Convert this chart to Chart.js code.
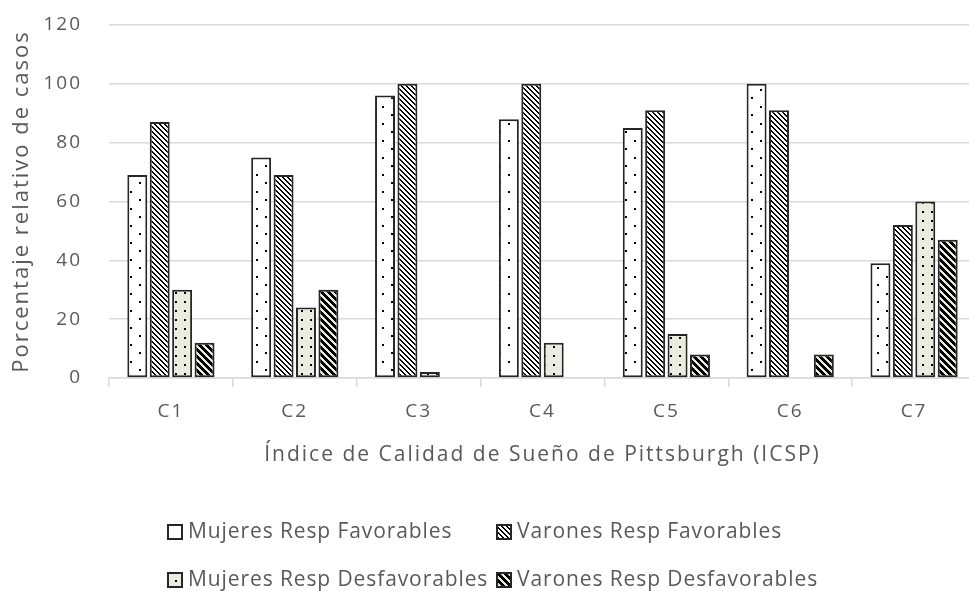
<!DOCTYPE html>
<html lang="es">
<head>
  <meta charset="UTF-8">
  <title>Índice de Calidad de Sueño de Pittsburgh</title>
  <script src="https://cdn.jsdelivr.net/npm/chart.js"></script>
  <style>
    html, body { margin: 0; padding: 0; background: #fff; overflow: hidden; }
    #wrap { position: relative; width: 980px; height: 591px; }
  </style>
</head>
<body>
  <div id="wrap"><canvas id="icsp"></canvas></div>

  <script>
    const categories = ['C1', 'C2', 'C3', 'C4', 'C5', 'C6', 'C7'];
    const seriesLabels = [
      'Mujeres Resp Favorables',
      'Varones Resp Favorables',
      'Mujeres Resp Desfavorables',
      'Varones Resp Desfavorables'
    ];
    const mujeresFavorables = [69, 75, 96, 88, 85, 100, 39];
    const varonesFavorables = [87, 69, 100, 100, 91, 91, 52];
    const mujeresDesfavorables = [30, 24, 2, 12, 15, 0, 60];
    const varonesDesfavorables = [12, 30, 0, 0, 8, 8, 47];
    const yTicks = [0, 20, 40, 60, 80, 100, 120];

    const textColor = '#595959';
    const gridColor = '#d9d9d9';
    const beige = '#ecebdf';

    // fill patterns like the Excel ones
    function dotPattern(bg, w, h, dots) {
      const c = document.createElement('canvas');
      c.width = w; c.height = h;
      const g = c.getContext('2d');
      g.fillStyle = bg;
      g.fillRect(0, 0, w, h);
      g.fillStyle = '#000';
      dots.forEach(d => g.fillRect(d[0], d[1], 2, 2));
      return g.createPattern(c, 'repeat');
    }

    function hatchPattern(bg, s, w) {
      const c = document.createElement('canvas');
      c.width = s; c.height = s;
      const g = c.getContext('2d');
      g.fillStyle = bg;
      g.fillRect(0, 0, s, s);
      g.fillStyle = '#000';
      for (let y = 0; y < s; y++) {
        for (let x = 0; x < s; x++) {
          if ((((x - y) % s) + s) % s < w) g.fillRect(x, y, 1, 1);
        }
      }
      return g.createPattern(c, 'repeat');
    }

    const fills = [
      dotPattern('#ffffff', 18, 17, [[4, 4], [13, 12]]),
      hatchPattern('#ffffff', 5, 2),
      dotPattern(beige, 9, 9, [[4, 4]]),
      hatchPattern(beige, 7, 4)
    ];

    const seriesData = [mujeresFavorables, varonesFavorables, mujeresDesfavorables, varonesDesfavorables];

    const spacing = {
      id: 'spacing',
      beforeDraw(chart) {
        chart.ctx.letterSpacing = '2px';
      }
    };

    const gridLegend = {
      id: 'gridLegend',
      afterDraw(chart) {
        const ctx = chart.ctx;
        const cols = [167, 496];
        const rows = [chart.height - 59, chart.height - 11];
        ctx.save();
        ctx.letterSpacing = '0.9px';
        ctx.font = '21px "Open Sans"';
        ctx.textBaseline = 'middle';
        ctx.textAlign = 'left';
        chart.data.datasets.forEach((ds, i) => {
          const x = cols[i % 2];
          const y = rows[Math.floor(i / 2)];
          ctx.fillStyle = ds.backgroundColor;
          ctx.fillRect(x, y - 8, 16, 16);
          ctx.strokeStyle = '#262626';
          ctx.lineWidth = 2;
          ctx.strokeRect(x + 1, y - 7, 14, 14);
          ctx.fillStyle = textColor;
          ctx.fillText(ds.label, x + 21, y);
        });
        ctx.restore();
      }
    };

    const ctx = document.getElementById('icsp').getContext('2d');

    new Chart(ctx, {
      type: 'bar',
      data: {
        labels: categories,
        datasets: seriesLabels.map((label, i) => ({
          label: label,
          data: seriesData[i],
          backgroundColor: fills[i],
          borderColor: '#262626',
          borderWidth: 2,
          borderSkipped: false,
          categoryPercentage: 0.724,
          barPercentage: 0.89
        }))
      },
      options: {
        responsive: true,
        maintainAspectRatio: false,
        animation: false,
        layout: { padding: { top: 25, right: 4, bottom: 123, left: 0 } },
        plugins: {
          legend: { display: false },
          tooltip: { enabled: false }
        },
        scales: {
          x: {
            grid: {
              offset: true,
              drawOnChartArea: false,
              drawTicks: true,
              tickLength: 9,
              color: gridColor,
              lineWidth: 1.5
            },
            border: { display: true, color: gridColor, width: 1.5 },
            ticks: {
              color: textColor,
              font: { family: 'Open Sans', size: 19 },
              padding: 13
            },
            title: {
              display: true,
              text: 'Índice de Calidad de Sueño de Pittsburgh (ICSP)',
              color: textColor,
              font: { family: 'Open Sans', size: 21 },
              padding: 0
            },
            afterFit(scale) { scale.height = 90; }
          },
          y: {
            min: 0,
            max: 120,
            afterBuildTicks(axis) {
              axis.ticks = yTicks.map(v => ({ value: v }));
            },
            grid: {
              color: gridColor,
              lineWidth: 1.5,
              drawTicks: false
            },
            border: { display: false },
            ticks: {
              color: textColor,
              font: { family: 'Open Sans', size: 19 },
              padding: 27
            },
            title: {
              display: true,
              text: 'Porcentaje relativo de casos',
              color: textColor,
              font: { family: 'Open Sans', size: 22 },
              padding: { top: 9, bottom: 0 }
            },
            afterFit(scale) {
              scale.width = 109;
              // tick padding should not push the plot down
              scale.paddingTop = 0;
              scale.paddingBottom = 0;
            }
          }
        }
      },
      plugins: [spacing, gridLegend]
    });
  </script>
</body>
</html>
